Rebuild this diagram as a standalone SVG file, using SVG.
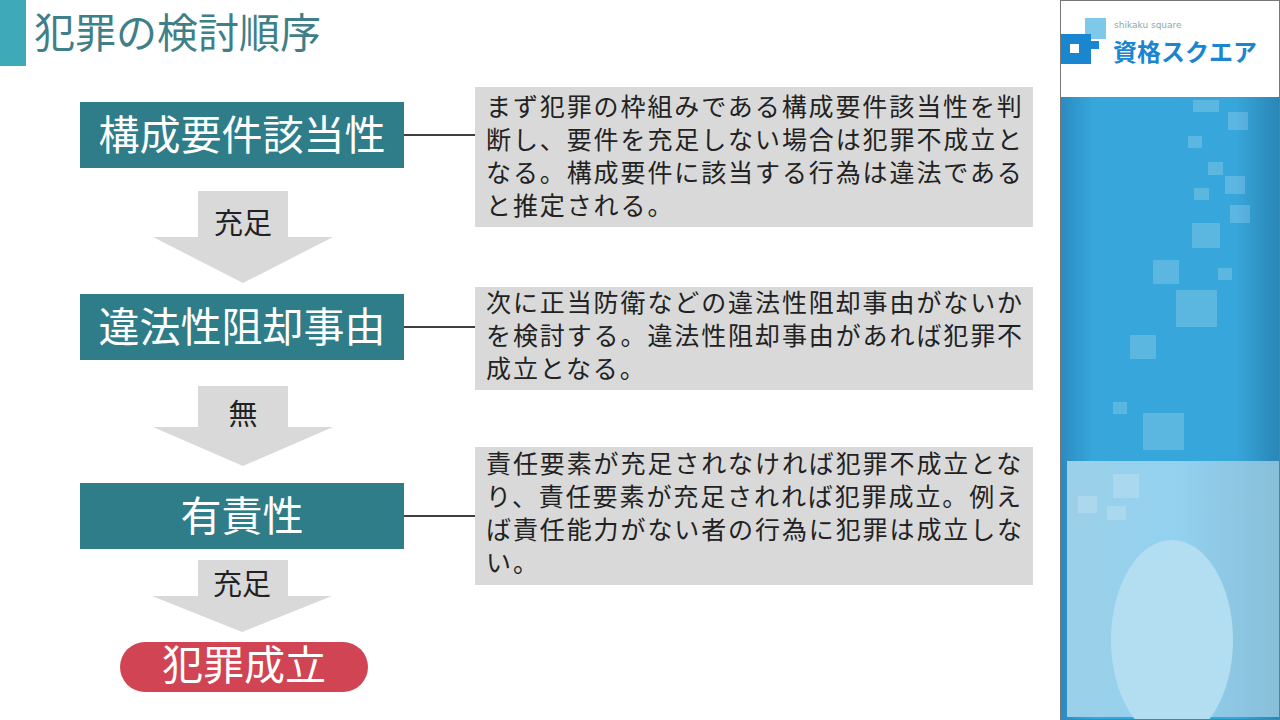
<svg xmlns="http://www.w3.org/2000/svg" width="1280" height="720" viewBox="0 0 1280 720">
<defs>
<style>
.node{fill:#2e7d89}
.nt{font-family:"Noto Sans CJK JP",sans-serif;font-size:41px;fill:#fff;text-anchor:middle}
.arr{fill:#d9d9d9}
.at{font-family:"Noto Sans CJK JP",sans-serif;font-size:29px;fill:#222;text-anchor:middle}
.desc{fill:#d9d9d9}
.dt{font-family:"Noto Sans CJK JP",sans-serif;font-size:25px;letter-spacing:1.9px;fill:#222}
.sq{fill:#fff;opacity:0.18}
</style>
<linearGradient id="bg" x1="0" x2="1" y1="0" y2="0">
<stop offset="0" stop-color="#2a8ac0"/><stop offset="0.15" stop-color="#37a6da"/><stop offset="0.8" stop-color="#37a6da"/><stop offset="1" stop-color="#2a85b5"/>
</linearGradient>
<linearGradient id="lg" x1="0" x2="1" y1="0" y2="0">
<stop offset="0" stop-color="#9ccfe8"/><stop offset="0.5" stop-color="#93d2ef"/><stop offset="1" stop-color="#88bed8"/>
</linearGradient>
</defs>
<rect width="1280" height="720" fill="#fff"/>
<g id="side">
<rect x="1060" y="0" width="220" height="720" fill="url(#bg)"/>
<rect x="1060" y="0" width="220" height="97" fill="#fff"/>
<rect x="1067" y="461" width="213" height="256" fill="url(#lg)"/>
<ellipse cx="1172" cy="640" rx="61" ry="100" fill="#b3def2"/>
<rect x="1193" y="100" width="26" height="12" class="sq"/>
<rect x="1228" y="112" width="20" height="18" class="sq"/>
<rect x="1188" y="136" width="14" height="12" class="sq"/>
<rect x="1208" y="162" width="15" height="13" class="sq"/>
<rect x="1225" y="176" width="20" height="18" class="sq"/>
<rect x="1194" y="188" width="15" height="12" class="sq"/>
<rect x="1230" y="205" width="20" height="18" class="sq"/>
<rect x="1192" y="223" width="28" height="25" class="sq"/>
<rect x="1153" y="260" width="26" height="24" class="sq"/>
<rect x="1176" y="290" width="41" height="37" class="sq"/>
<rect x="1218" y="268" width="14" height="12" class="sq"/>
<rect x="1130" y="335" width="26" height="24" class="sq"/>
<rect x="1143" y="413" width="41" height="37" class="sq"/>
<rect x="1113" y="402" width="14" height="12" class="sq"/>
<rect x="1113" y="474" width="26" height="24" class="sq"/>
<rect x="1078" y="496" width="19" height="17" class="sq"/>
<rect x="1107" y="506" width="19" height="14" class="sq"/>
<rect x="1060.5" y="0.5" width="219" height="719" fill="none" stroke="#777" stroke-width="1"/>
</g>
<g id="logo">
<rect x="1085" y="18" width="21" height="21" fill="#7ec8ea"/>
<rect x="1061" y="34" width="30" height="30" fill="#1a86cf"/>
<rect x="1070" y="44" width="9" height="9" fill="#fff"/>
<rect x="1091" y="41" width="8" height="8" fill="#1a86cf"/>
<text x="1114" y="28" font-family="'DejaVu Sans',sans-serif" font-size="9" fill="#8aa">shikaku square</text>
<text x="1113" y="61" font-family="'Noto Sans CJK JP',sans-serif" font-size="24" font-weight="bold" fill="#1a86cf">資格スクエア</text>
</g>
<g id="title">
<rect x="0" y="0" width="26" height="66" fill="#3eaab8"/>
<text x="34" y="48" font-family="'Noto Sans CJK JP',sans-serif" font-size="41" fill="#3f7f88">犯罪の検討順序</text>
</g>
<g id="connectors">
<path class="arr" d="M198 191H288V237H333L243 283L153 237H198Z"/>
<path class="arr" d="M198 386H288V427H333L243 466L153 427H198Z"/>
<path class="arr" d="M198 560H288V596H332L242 632L152 596H198Z"/>
<text class="at" x="243" y="234">充足</text>
<text class="at" x="243" y="425">無</text>
<text class="at" x="242" y="595">充足</text>
<path d="M404 135H475M404 327H475M404 516H475" stroke="#000" stroke-width="1.5"/>
</g>
<g id="n1"><rect class="node" x="80" y="102" width="324" height="66"/><text class="nt" x="242" y="150">構成要件該当性</text></g>
<g id="n2"><rect class="node" x="80" y="294" width="324" height="66"/><text class="nt" x="242" y="342">違法性阻却事由</text></g>
<g id="n3"><rect class="node" x="80" y="483" width="324" height="66"/><text class="nt" x="242" y="531">有責性</text></g>
<g id="n4"><rect x="120" y="642" width="248" height="50" rx="25" fill="#d04454"/><text class="nt" x="244" y="680" font-size="36">犯罪成立</text></g>
<g id="d1"><rect class="desc" x="475" y="87" width="558" height="140"/>
<text class="dt" x="486" y="116">まず犯罪の枠組みである構成要件該当性を判</text>
<text class="dt" x="486" y="149">断し、要件を充足しない場合は犯罪不成立と</text>
<text class="dt" x="486" y="182">なる。構成要件に該当する行為は違法である</text>
<text class="dt" x="486" y="215">と推定される。</text></g>
<g id="d2"><rect class="desc" x="475" y="287" width="558" height="103"/>
<text class="dt" x="486" y="312">次に正当防衛などの違法性阻却事由がないか</text>
<text class="dt" x="486" y="345">を検討する。違法性阻却事由があれば犯罪不</text>
<text class="dt" x="486" y="378">成立となる。</text></g>
<g id="d3"><rect class="desc" x="475" y="447" width="558" height="138"/>
<text class="dt" x="486" y="473">責任要素が充足されなければ犯罪不成立とな</text>
<text class="dt" x="486" y="506">り、責任要素が充足されれば犯罪成立。例え</text>
<text class="dt" x="486" y="539">ば責任能力がない者の行為に犯罪は成立しな</text>
<text class="dt" x="486" y="572">い。</text></g>
</svg>
